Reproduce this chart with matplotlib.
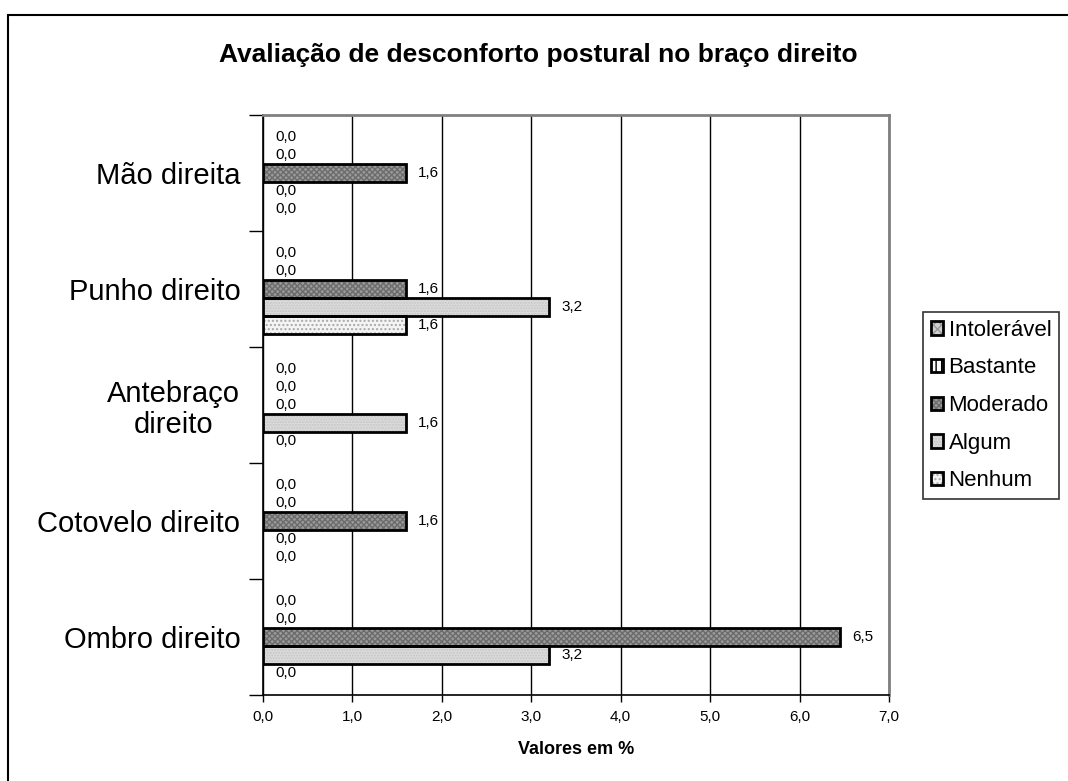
"""Horizontal grouped bar chart of postural discomfort in the right arm."""

import matplotlib.pyplot as plt
import numpy as np
from matplotlib.legend_handler import HandlerTuple
from matplotlib.patches import Patch, Rectangle

plt.rcParams["font.family"] = ["Liberation Sans", "DejaVu Sans"]

# body regions, bottom to top
regions = ["Ombro direito", "Cotovelo direito", "Antebraço\ndireito", "Punho direito", "Mão direita"]

# percentages per discomfort level, same order as regions
intoleravel = [0.0, 0.0, 0.0, 0.0, 0.0]
bastante = [0.0, 0.0, 0.0, 0.0, 0.0]
moderado = [6.45, 1.6, 0.0, 1.6, 1.6]
algum = [3.2, 0.0, 1.6, 3.2, 0.0]
nenhum = [0.0, 0.0, 0.0, 1.6, 0.0]

levels = ["Intolerável", "Bastante", "Moderado", "Algum", "Nenhum"]
x_ticks = [0, 1, 2, 3, 4, 5, 6, 7]

# (face colour, hatch, hatch colour) per level
styles = {
    "Intolerável": ("#cfcfcf", "xxxx", "#9a9a9a"),
    "Bastante": ("#ffffff", "|||", "#000000"),
    "Moderado": ("#9a9a9a", "xxxxxx", "#6c6c6c"),
    "Algum": ("#dcdcdc", "......", "#c4c4c4"),
    "Nenhum": ("#f4f4f4", "....", "#a8a8a8"),
}


def fmt(v):
    return f"{v:.1f}".replace(".", ",")


fig = plt.figure(figsize=(10.68, 7.81), dpi=100)
ax = fig.add_axes([262.5 / 1068, 1 - 695 / 781, 626.5 / 1068, 580 / 781])

y = np.arange(len(regions))
h = 0.155
series = [intoleravel, bastante, moderado, algum, nenhum]
handles = []
for k, (name, vals) in enumerate(zip(levels, series)):
    face, hatch, hcol = styles[name]
    pos = y + (2 - k) * h
    vals = np.asarray(vals)
    ax.barh(pos, vals, height=h, color=face, hatch=hatch, edgecolor=hcol,
            linewidth=0, zorder=3)
    # outline only the bars that have a length
    nz = vals > 0
    ax.barh(pos[nz], vals[nz], height=h, facecolor="none", edgecolor="black",
            linewidth=2, zorder=4)
    for p, v in zip(pos, vals):
        ax.annotate(fmt(v), (v, p), xytext=(9, 0), textcoords="offset points",
                    ha="left", va="center", fontsize=11, zorder=5)
    handles.append((Patch(facecolor=face, hatch=hatch, edgecolor=hcol, linewidth=0),
                    Patch(facecolor="none", edgecolor="black", linewidth=2)))

ax.set_xlim(0, 7)
ax.set_ylim(-0.5, len(regions) - 0.5)
ax.set_xticks(x_ticks)
ax.set_xticklabels([fmt(v) for v in x_ticks], fontsize=11)
ax.tick_params(axis="x", length=5, width=1, pad=6)
ax.set_yticks(y)
ax.set_yticklabels(regions, fontsize=21, linespacing=1.15, ha="right",
                   multialignment="center")
ax.tick_params(axis="y", length=0, pad=16)
ax.set_yticks(np.arange(-0.5, len(regions)), minor=True)
ax.tick_params(axis="y", which="minor", length=10, width=1)
ax.grid(axis="x", color="black", linewidth=1, zorder=1)

for side in ["left", "bottom"]:
    ax.spines[side].set_color("black")
    ax.spines[side].set_linewidth(1.2)
for side in ["top", "right"]:
    ax.spines[side].set_color("#808080")
    ax.spines[side].set_linewidth(2)

ax.set_xlabel("Valores em %", fontsize=13, fontweight="bold", labelpad=12)
fig.text(0.504, 1 - 55 / 781, "Avaliação de desconforto postural no braço direito",
         ha="center", va="center", fontsize=19, fontweight="bold")

leg = fig.legend(handles, levels, handler_map={tuple: HandlerTuple(ndivide=1)},
                 loc="upper left", bbox_to_anchor=(923 / 1068, 1 - 312 / 781),
                 fontsize=16, frameon=True, fancybox=False, edgecolor="black",
                 handlelength=0.55, handleheight=0.55, handletextpad=0.25,
                 labelspacing=0.75, borderpad=0.35, borderaxespad=0)
leg.get_frame().set_linewidth(1.2)

# outer chart border
fig.patches.append(Rectangle((8 / 1068, -0.05), 1.2, 1.05 - 15 / 781,
                             transform=fig.transFigure, fill=False,
                             edgecolor="black", linewidth=1.5))

fig.savefig("out.png", dpi=100)
